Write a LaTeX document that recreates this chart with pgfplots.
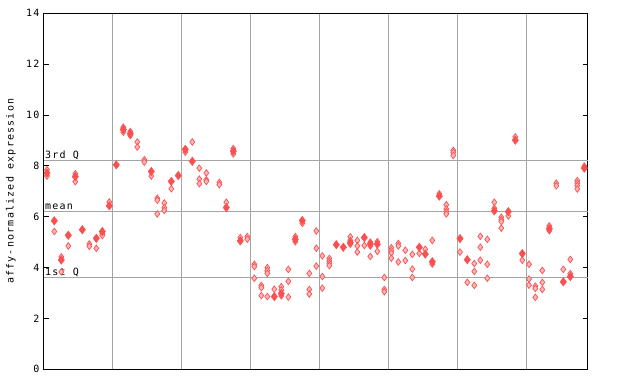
\documentclass[border=0pt]{standalone}
\usepackage{pgfplots}
\pgfplotsset{compat=1.18}
\usepackage{pgfplotstable}
\usepackage{fontspec}
\newfontfamily\labfont[LetterSpace=12]{DejaVu Sans Mono}
\definecolor{ptred}{RGB}{250,80,80}
\definecolor{gridgray}{RGB}{165,165,165}

\pgfplotstableread{
x y
47 7.85
47 7.6
54.3 5.42
61.3 4.42
61.3 3.83
68.3 4.85
75.3 7.69
75.3 7.38
89.3 4.93
89.3 4.84
96.3 4.76
102.3 5.33
102.3 5.26
109.3 6.58
123.3 9.52
123.3 9.33
130.3 9.35
130.3 9.19
137.3 8.94
137.3 8.74
144.3 8.24
144.3 8.15
151.3 7.6
157.3 6.73
157.3 6.65
157.3 6.11
164.3 6.54
164.3 6.36
164.3 6.25
171.3 7.1
185.3 8.54
192.3 8.94
199.3 7.91
199.3 7.48
199.3 7.3
206.3 7.72
206.3 7.45
206.3 7.39
219.3 7.35
219.3 7.26
226.3 6.57
233.3 8.68
233.3 8.47
240.3 5.18
247.3 5.22
247.3 5.12
254.3 4.13
254.3 4.04
254.3 3.58
261.3 3.3
261.3 3.21
261.3 2.9
267.3 4.0
267.3 3.88
267.3 3.77
267.3 2.86
274.3 3.15
281.3 3.25
281.3 3.12
281.3 2.89
288.3 3.93
288.3 3.46
288.3 2.84
295.3 5.22
295.3 5.02
302.3 5.74
309.3 3.77
309.3 3.14
309.3 2.96
316.3 5.44
316.3 4.76
316.3 4.06
322.3 4.46
322.3 3.65
322.3 3.19
329.3 4.36
329.3 4.26
329.3 4.17
329.3 4.08
350.3 5.21
350.3 5.07
350.3 4.92
357.3 5.07
357.3 4.85
357.3 4.61
364.3 4.87
370.3 5.0
370.3 4.85
370.3 4.44
377.3 5.02
377.3 4.64
384.3 3.61
384.3 3.14
384.3 3.05
391.3 4.78
391.3 4.67
391.3 4.57
391.3 4.37
398.3 4.95
398.3 4.85
398.3 4.22
405.3 4.68
405.3 4.28
412.3 4.52
412.3 3.94
412.3 3.61
419.3 4.56
425.3 4.72
432.3 5.07
432.3 4.14
439.3 6.9
446.3 6.47
446.3 6.3
446.3 6.2
446.3 6.11
453.3 8.61
453.3 8.53
453.3 8.41
460 4.61
467.3 3.42
474.3 4.16
474.3 3.85
474.3 3.3
480.3 5.23
480.3 4.8
480.3 4.29
487.3 5.11
487.3 4.13
487.3 3.58
494.3 6.57
494.3 6.33
501.3 5.98
501.3 5.88
501.3 5.81
501.3 5.55
508.3 6.03
515.3 9.14
522.3 4.29
529 4.13
529 3.55
529 3.31
535.3 3.27
535.3 3.18
535.3 2.83
542.3 3.89
542.3 3.42
542.3 3.14
549.3 5.64
549.3 5.45
556.3 7.32
556.3 7.22
563.3 3.93
570.3 4.32
570.3 3.76
577.3 7.42
577.3 7.32
577.3 7.22
577.3 7.09
584.3 7.99
}\opentable

\pgfplotstableread{
x y
47 7.72
54.3 5.84
61.3 4.3
68.3 5.27
75.3 7.58
82.3 5.49
96.3 5.15
102.3 5.42
109.3 6.43
116.3 8.04
123.3 9.43
130.3 9.27
151.3 7.78
171.3 7.39
178.3 7.62
185.3 8.65
192.3 8.18
226.3 6.36
233.3 8.58
240.3 5.05
274.3 2.86
281.3 2.98
295.3 5.11
302.3 5.85
336.3 4.9
343.3 4.8
350.3 4.98
364.3 5.18
370.3 4.93
377.3 4.92
419.3 4.8
425.3 4.53
432.3 4.23
439.3 6.81
460 5.14
467.3 4.31
494.3 6.23
508.3 6.2
515.3 9.01
522.3 4.55
549.3 5.53
563.3 3.44
570.3 3.65
584.3 7.91
}\filledtable

\begin{document}
\begin{tikzpicture}[x=1pt,y=1pt]
\path[use as bounding box] (0,0) rectangle (640,384);
\begin{axis}[
  at={(44pt,14.7pt)}, anchor=south west,
  scale only axis, width=543.5pt, height=356pt,
  xmin=44, xmax=587.5, ymin=0, ymax=14,
  xtick={112,181,250,319,388,457,526}, xticklabels={},
  xmajorgrids, major grid style={gridgray, line width=1pt},
  xtick style={draw=none},
  ytick={0,2,4,6,8,10,12,14},
  tick align=inside, major tick length=5pt,
  ytick style={black, line width=1pt},
  axis line style={black, line width=1pt},
  /pgf/number format/assume math mode=true,
  yticklabel style={font=\labfont\fontsize{10}{12}\selectfont, xshift=-1pt},
  ylabel={affy-normalized expression},
  ylabel style={font=\labfont\fontsize{10}{12}\selectfont, at={(axis description cs:-0.061,0.5)}, anchor=center},
  clip=false,
]
\draw[gridgray, line width=1pt] (axis cs:44,8.22) -- (axis cs:587.5,8.22);
\draw[gridgray, line width=1pt] (axis cs:44,6.22) -- (axis cs:587.5,6.22);
\draw[gridgray, line width=1pt] (axis cs:44,3.62) -- (axis cs:587.5,3.62);
\node[anchor=base west, font=\labfont\fontsize{10}{12}\selectfont, inner sep=0pt] at (axis cs:45,8.22) [yshift=1.5pt] {3rd Q};
\node[anchor=base west, font=\labfont\fontsize{10}{12}\selectfont, inner sep=0pt] at (axis cs:45,6.22) [yshift=1.5pt] {mean};
\node[anchor=base west, font=\labfont\fontsize{10}{12}\selectfont, inner sep=0pt] at (axis cs:45,3.62) [yshift=1.5pt] {1st Q};
\addplot[only marks, mark=diamond*, mark size=3.3pt,
  mark options={draw=ptred, fill=ptred!40!white, line width=0.7pt}]
  table[x=x,y=y] {\opentable};
\addplot[only marks, mark=diamond*, mark size=4.2pt,
  mark options={draw=ptred, fill=ptred, line width=0.5pt}]
  table[x=x,y=y] {\filledtable};
\end{axis}
\end{tikzpicture}
\end{document}
